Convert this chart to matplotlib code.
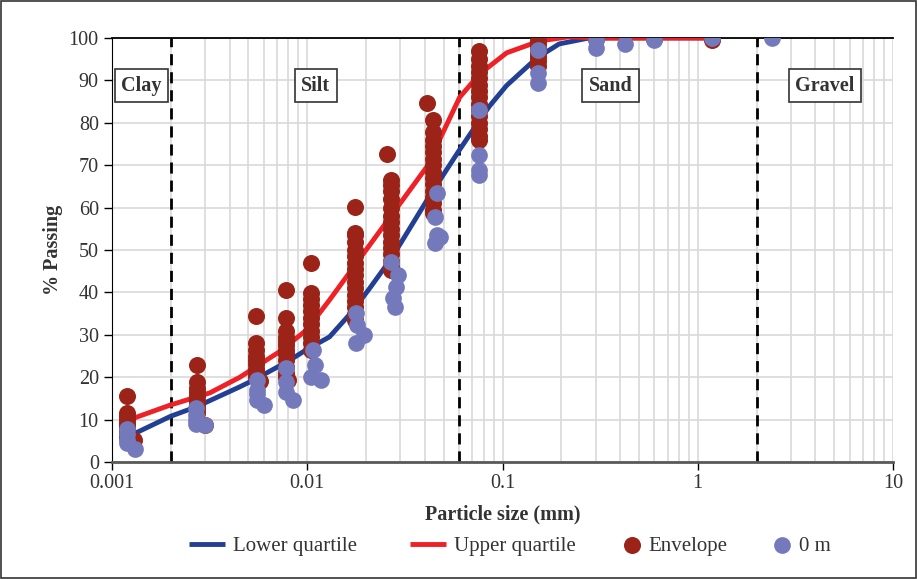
import matplotlib
matplotlib.use('Agg')
import matplotlib.pyplot as plt
from matplotlib.patches import Rectangle
from matplotlib.ticker import LogLocator, NullFormatter, FixedLocator

plt.rcParams['font.family'] = ['Liberation Serif', 'DejaVu Serif']

# quartile curves (particle size mm, % passing)
low_d = [0.00125, 0.002, 0.0027, 0.0045, 0.0053, 0.008, 0.01, 0.013, 0.017, 0.0209,
         0.0255, 0.03, 0.042, 0.06, 0.076, 0.086, 0.105, 0.15, 0.195, 0.27, 0.35, 1.2]
low_p = [6.3, 10.8, 13.0, 17.7, 19.3, 23.8, 26.6, 29.5, 35.5, 41.0,
         46.5, 51.5, 62.5, 73.5, 80.5, 84.0, 88.8, 95.3, 98.6, 99.9, 100, 100]
up_d = [0.00125, 0.00198, 0.00317, 0.00452, 0.0072, 0.0099, 0.013, 0.0209, 0.0297,
        0.0423, 0.0476, 0.0603, 0.0763, 0.105, 0.155, 0.22, 0.3, 1.2]
up_p = [10.1, 13.4, 16.3, 20.0, 26.0, 31.1, 38.2, 51.2, 60.8,
        70.5, 76.0, 86.0, 91.5, 96.5, 99.3, 100.3, 100, 100]

# envelope points, one list per sieve/hydrometer reading
env_d = [0.0012, 0.0013, 0.00272, 0.003, 0.00545, 0.0057, 0.0078, 0.008, 0.0105,
         0.0175, 0.0255, 0.027, 0.041, 0.044, 0.0755, 0.152, 0.3, 0.6, 1.18]
env_p = [
    [15.6, 11.6, 10.8, 10.0, 9.2, 8.4, 7.6, 6.8, 6.0],
    [5.2],
    [22.9, 18.9, 17.5, 16.5, 15.5, 14.5, 13.5, 12.5, 11.5],
    [8.7],
    [34.4, 28.0, 26.5, 25.0, 24.0, 23.0, 22.0, 21.0, 20.0],
    [19.0],
    [40.6, 34.0, 31.0, 29.5, 28.5, 27.5, 26.5, 25.5, 24.0, 22.5, 21.0, 20.0],
    [19.3],
    [46.9, 39.9, 38.5, 37.0, 35.5, 34.0, 32.5, 31.0, 29.5, 28.0, 26.5],
    [60.1, 54.0, 53.5, 52.0, 50.0, 48.5, 47.0, 45.5, 44.0, 42.5, 41.0, 39.5, 38.0, 36.5, 35.0, 33.5],
    [72.6],
    [66.5, 65.3, 64.0, 62.0, 60.0, 58.0, 56.5, 55.0, 53.5, 52.0, 50.5, 49.0, 47.5, 46.0, 45.3],
    [84.7],
    [80.7, 77.8, 76.0, 74.5, 73.0, 71.5, 70.0, 68.5, 67.0, 65.5, 64.0, 62.5, 61.0, 59.5, 58.7],
    [96.9, 95.0, 93.5, 92.0, 90.5, 89.0, 87.5, 86.0, 84.5, 83.0, 81.5, 80.0, 78.5, 77.0, 76.0],
    [99.5, 98.5, 97.5, 96.5, 95.5, 94.5, 93.5],
    [99.8],
    [99.8],
    [99.6],
]

# 0 m sample
m0_d = [0.0012, 0.0012, 0.0012, 0.0012, 0.00131,
        0.0027, 0.0027, 0.0027, 0.0027, 0.003,
        0.0055, 0.0055, 0.0055, 0.0055, 0.006,
        0.0078, 0.0078, 0.0078, 0.0085,
        0.0107, 0.011, 0.0105, 0.0118,
        0.0178, 0.018, 0.0195, 0.0178,
        0.027, 0.029, 0.0285, 0.0275, 0.028,
        0.046, 0.045, 0.046, 0.045, 0.048,
        0.0755, 0.0755, 0.0755, 0.0755,
        0.152, 0.152, 0.152,
        0.3, 0.3, 0.425, 0.6, 1.18, 2.4]
m0_p = [7.8, 6.5, 5.2, 4.5, 3.1,
        12.7, 11.1, 9.9, 9.0, 8.7,
        19.3, 17.0, 16.0, 14.6, 13.4,
        22.2, 18.9, 16.5, 14.6,
        26.4, 22.9, 20.0, 19.3,
        35.1, 32.3, 30.0, 28.0,
        47.2, 44.1, 41.3, 38.7, 36.6,
        63.4, 57.8, 53.5, 51.7, 53.0,
        83.0, 72.4, 68.9, 67.8,
        97.2, 91.7, 89.4,
        99.5, 97.6, 98.6, 99.6, 100, 100]

boundaries = [0.002, 0.06, 2]
zones = ['Clay', 'Silt', 'Sand', 'Gravel']
zone_x = [0.00142, 0.01105, 0.357, 4.49]

blue = '#233f94'
red = '#ed2126'
dark_red = '#9b2317'
purple = '#7479bb'
txt = '#333333'

fig = plt.figure(figsize=(9.17, 5.79), dpi=100)
ax = fig.add_axes([112/917, 1-462/579, (893-112)/917, (462-38)/579])

ax.set_xscale('log')
ax.set_xlim(0.001, 10)
ax.set_ylim(0, 100)

# grid
ax.xaxis.set_minor_locator(LogLocator(base=10, subs=range(2, 10)))
ax.xaxis.set_minor_formatter(NullFormatter())
ax.grid(True, which='both', axis='x', color='#d9d9d9', lw=1.2, zorder=0)
ax.grid(True, which='major', axis='y', color='#d9d9d9', lw=1.2, zorder=0)
ax.set_axisbelow(True)

for b in boundaries:
    ax.axvline(b, color='black', lw=2, ls=(0, (4, 2.5)), zorder=2)

l1, = ax.plot(low_d, low_p, color=blue, lw=3.5, label='Lower quartile', zorder=3, solid_capstyle='butt')
l2, = ax.plot(up_d, up_p, color=red, lw=3.5, label='Upper quartile', zorder=3, solid_capstyle='butt')

ex, ey = [], []
for d, vals in zip(env_d, env_p):
    ex += [d] * len(vals)
    ey += vals
s1 = ax.scatter(ex, ey, s=150, color=dark_red, lw=0, label='Envelope', zorder=4)
s2 = ax.scatter(m0_d, m0_p, s=145, color=purple, lw=0, label='0 m', zorder=5)

for name, x in zip(zones, zone_x):
    ax.text(x, 88.7, name, ha='center', va='center', fontsize=14.5, fontweight='bold',
            color=txt, zorder=6,
            bbox=dict(boxstyle='square,pad=0.32', fc='white', ec='#333333', lw=1.2))

ax.set_yticks(range(0, 101, 10))
ax.xaxis.set_major_locator(FixedLocator([0.001, 0.01, 0.1, 1, 10]))
ax.set_xticklabels(['0.001', '0.01', '0.1', '1', '10'])
ax.tick_params(axis='both', which='major', labelsize=14.5, labelcolor=txt, length=6,
               width=1, direction='out', color='black')
ax.tick_params(axis='x', which='minor', length=0)
ax.tick_params(axis='x', pad=3)

ax.spines['right'].set_visible(False)
ax.spines['top'].set_color('black')
ax.spines['top'].set_linewidth(1.3)
ax.spines['left'].set_color('black')
ax.spines['bottom'].set_color('#595959')
ax.spines['bottom'].set_linewidth(2)

ax.set_xlabel('Particle size (mm)', fontsize=14.5, fontweight='bold', color=txt, labelpad=8)
ax.set_ylabel('% Passing', fontsize=14.5, fontweight='bold', color=txt, labelpad=4)

# legend in two groups to match the spacing of the original
ly = 1 - 546/579
fig.legend([l1, l2], ['Lower quartile', 'Upper quartile'], loc='center left',
           bbox_to_anchor=(189/917, ly), ncol=2, frameon=False, fontsize=15,
           handlelength=1.73, handletextpad=0.38, columnspacing=2.54,
           borderpad=0, borderaxespad=0, labelcolor=txt)
fig.legend([s1, s2], ['Envelope', '0 m'], loc='center left',
           bbox_to_anchor=(623/917, ly), ncol=2, frameon=False, fontsize=15,
           handlelength=0.86, handletextpad=0.38, columnspacing=2.16,
           borderpad=0, borderaxespad=0, labelcolor=txt, scatterpoints=1)

fig.patches.append(Rectangle((0.001, 0.001), 0.998, 0.998, transform=fig.transFigure,
                             fill=False, ec='#333333', lw=1.2))

fig.savefig('out.png', dpi=100)
